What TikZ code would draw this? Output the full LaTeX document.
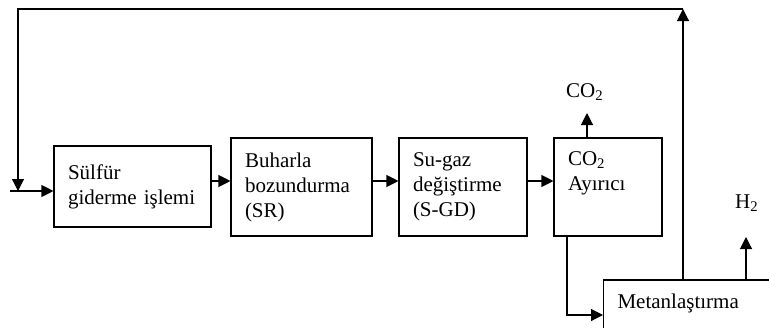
\documentclass[tikz,border=0pt]{standalone}
\usepackage{fontspec}
\setmainfont{Liberation Serif}
\usetikzlibrary{arrows.meta}

\begin{document}
\begin{tikzpicture}[
  x = 1pt, y = -1pt,
  every node/.style = {font=\fontsize{21}{25}\selectfont},
  box/.style = {draw, line width=1.1pt, align=left, inner xsep=14pt},
  lbl/.style = {inner sep=0pt, anchor=base west},
  arr/.style = {draw, line width=1.1pt, -{Triangle[length=12pt, width=12pt]}},
]
\path[use as bounding box, clip] (0,0) rectangle (769,327);

\node[box, text width=129pt, minimum height=81pt] (sulfur)  at (132.5, 186.5) {Sülfür\\giderme işlemi};
\node[box, text width=113pt, minimum height=98pt] (sr)      at (301.5, 187.0) {Buharla\\bozundurma\\(SR)};
\node[box, text width=100pt, minimum height=98pt] (sgd)     at (463.0, 187.0) {Su-gaz\\değiştirme\\(S-GD)};
\node[box, text width=80pt,  minimum height=98pt] (ayirici) at (608.0, 187.0) {CO\textsubscript{2}\\Ayırıcı\\\strut};
\node[box, anchor=base west, text width=160pt, inner ysep=13pt,
      text height=15pt, text depth=40pt] (metan) at (603, 308) {Metanlaştırma};

\node[lbl] (co2) at (566, 97)  {CO\textsubscript{2}};
\node[lbl] (h2)  at (735, 208) {H\textsubscript{2}};

\coordinate (in)    at ( 10, 191);
\coordinate (row)   at (  0, 181);
\coordinate (ret)   at (683,   9);
\coordinate (back)  at ( 18,   9);
\coordinate (co2up) at (587, 113);
\coordinate (h2up)  at (746, 237);
\coordinate (turn)  at (567, 315);

\draw[arr] (in) -- (sulfur.west |- in);
\foreach \p/\c in {sulfur/sr, sr/sgd, sgd/ayirici}
  \draw[arr] (\p.east |- row) -- (\c.west |- row);

\draw[arr] (ayirici.north -| co2up) -- (co2up);
\draw[arr] (ayirici.south -| turn) -- (turn) -- (metan.west |- turn);
\draw[arr] (metan.north -| h2up) -- (h2up);

\draw[arr] (metan.north -| ret) -- (ret);
\draw[arr] (ret) -- (back) -- (back |- in);

\end{tikzpicture}
\end{document}
